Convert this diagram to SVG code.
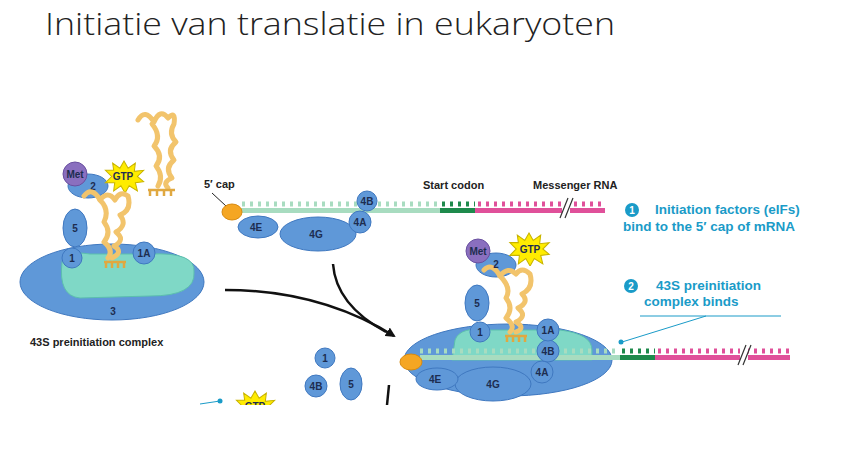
<svg xmlns="http://www.w3.org/2000/svg" width="842" height="456" viewBox="0 0 842 456">
<style>
.t{font-family:"Liberation Sans",Arial,sans-serif;font-weight:bold;font-size:11px;fill:#222}
.f{fill:#5f98d8;stroke:#3f78c0;stroke-width:1}
.fl{font-family:"Liberation Sans",Arial,sans-serif;font-weight:bold;font-size:10px;fill:#1d2d50;text-anchor:middle}
.s{font-family:"Liberation Sans",Arial,sans-serif;font-weight:bold;font-size:13.5px;fill:#1a9bc8}
.tr{fill:none;stroke:#f2c46c;stroke-width:5;stroke-linejoin:round;stroke-linecap:round}
.gtp{fill:#ffec00;stroke:#c9b400;stroke-width:1}
</style>
<defs>
<marker id="ah" markerWidth="10" markerHeight="10" refX="8" refY="5" orient="auto" markerUnits="userSpaceOnUse"><path d="M0,0 L10,5 L0,10 z" fill="#111"/></marker>
<symbol id="star" viewBox="-20 -16 40 32"><path d="M0,-15 L4,-8 L11,-13 L10,-5 L19,-6 L13,0 L19,5 L11,6 L13,14 L5,9 L1,16 L-3,9 L-10,14 L-9,6 L-18,6 L-12,0 L-18,-6 L-10,-6 L-11,-13 L-4,-8 Z" class="gtp"/></symbol>
</defs>
<rect width="842" height="456" fill="#fff"/>
<text x="45" y="35" font-family="'Open Sans',Lato,sans-serif" font-weight="300" font-size="31" fill="#222" textLength="570" lengthAdjust="spacingAndGlyphs">Initiatie van translatie in eukaryoten</text>

<g id="left-complex">
<ellipse cx="112" cy="282" rx="92" ry="38" class="f"/>
<path d="M62,262 Q64,250 90,254 L150,254 Q196,252 194,272 Q196,296 150,296 L80,298 Q58,296 62,262 Z" fill="#7fd8c6" stroke="#5cbfae"/>
<text x="113" y="315" class="fl">3</text>
<ellipse cx="88" cy="186" rx="20" ry="12" class="f"/><text x="93" y="190" class="fl">2</text>
<ellipse cx="75" cy="228" rx="12" ry="19" class="f"/><text x="75" y="232" class="fl">5</text>
<circle cx="72" cy="258" r="10" class="f"/><text x="72" y="262" class="fl">1</text>
<circle cx="144" cy="253" r="11" class="f"/><text x="144" y="257" class="fl">1A</text>
<circle cx="75" cy="174" r="12" fill="#8a6fbf" stroke="#6a50a0"/><text x="75" y="178" class="fl">Met</text>
<use href="#star" x="103" y="160" width="42" height="33"/><text x="123" y="180" class="fl" font-size="11">GTP</text>
<path d="M84,196 Q92,186 100,200 Q108,190 115,200 Q120,190 128,196 Q132,210 120,215 Q128,225 116,232 Q126,240 114,246 Q124,252 112,258" class="tr"/>
<path d="M100,200 Q110,210 104,222 Q112,232 104,242 Q114,250 108,258" class="tr"/>
<path d="M104,262 L126,262 M106,262 v6 M112,262 v6 M118,262 v6 M124,262 v6" stroke="#e0a840" stroke-width="2.5" fill="none"/>
<text x="30" y="346" class="t">43S preinitiation complex</text>
</g>

<g id="trna-free">
<path d="M138,120 Q145,108 154,122 Q160,108 168,118 Q176,110 174,124 Q168,134 176,142 Q166,150 174,160 Q164,168 172,178 Q162,182 168,188" class="tr"/>
<path d="M152,124 Q162,136 154,146 Q164,156 156,166 Q164,176 158,186" class="tr"/>
<path d="M148,190 L175,190 M150,190 v6 M157,190 v6 M164,190 v6 M171,190 v6" stroke="#e0a840" stroke-width="2.5" fill="none"/>
</g>

<g id="mrna-top">
<text x="204" y="188" class="t">5′ cap</text>
<line x1="212" y1="193" x2="226" y2="206" stroke="#222"/>
<rect x="240" y="208" width="200" height="5" fill="#a8dcc0"/>
<path d="M242,204 h198" stroke="#a8dcc0" stroke-width="5" stroke-dasharray="3 5"/>
<rect x="440" y="208" width="35" height="5" fill="#1e8a4c"/><path d="M442,204 h33" stroke="#1e8a4c" stroke-width="5" stroke-dasharray="3 5"/>
<rect x="475" y="208" width="130" height="5" fill="#e0509a"/><path d="M478,204 h127" stroke="#e0509a" stroke-width="5" stroke-dasharray="3 5"/>
<rect x="562" y="198" width="8" height="20" fill="#fff"/>
<path d="M560,218 L568,198 M565,218 L573,198" stroke="#333" stroke-width="1.2"/>
<ellipse cx="232" cy="212" rx="10" ry="8" fill="#f5a623" stroke="#d88a10"/>
<text x="423" y="189" class="t">Start codon</text>
<text x="533" y="189" class="t">Messenger RNA</text>
</g>

<g id="eif-top">
<ellipse cx="318" cy="234" rx="38" ry="17" class="f"/><text x="316" y="238" class="fl">4G</text>
<ellipse cx="258" cy="227" rx="20" ry="11" class="f"/><text x="256" y="231" class="fl">4E</text>
<circle cx="360" cy="222" r="11" class="f"/><text x="360" y="226" class="fl">4A</text>
<circle cx="367" cy="201" r="10" class="f"/><text x="367" y="205" class="fl">4B</text>
</g>

<g id="step1">
<circle cx="632" cy="210" r="7" fill="#1a9bc8"/><text x="632" y="214" font-family="Liberation Sans,sans-serif" font-weight="bold" font-size="10" fill="#fff" text-anchor="middle">1</text>
<text x="655" y="214" class="s">Initiation factors (eIFs)</text>
<text x="623" y="231" class="s">bind to the 5′ cap of mRNA</text>
</g>
<g id="step2">
<circle cx="631" cy="286" r="7" fill="#1a9bc8"/><text x="631" y="290" font-family="Liberation Sans,sans-serif" font-weight="bold" font-size="10" fill="#fff" text-anchor="middle">2</text>
<text x="656" y="290" class="s">43S preinitiation</text>
<text x="644" y="306" class="s">complex binds</text>
<path d="M640,316 H781 M706,316 L622,342" stroke="#1a9bc8" fill="none"/>
<circle cx="621" cy="342" r="2.5" fill="#1a9bc8"/>
</g>

<g id="right-complex">
<ellipse cx="508" cy="360" rx="104" ry="36" class="f"/>
<path d="M455,340 Q460,326 490,330 L560,330 Q592,334 592,350 L592,360 L452,360 Z" fill="#7fd8c6" stroke="#5cbfae"/>
<rect x="420" y="355" width="200" height="5" fill="#a8dcc0"/><path d="M420,351 h200" stroke="#a8dcc0" stroke-width="5" stroke-dasharray="3 5"/>
<rect x="620" y="355" width="35" height="5" fill="#1e8a4c"/><path d="M622,351 h33" stroke="#1e8a4c" stroke-width="5" stroke-dasharray="3 5"/>
<rect x="655" y="355" width="135" height="5" fill="#e0509a"/><path d="M658,351 h132" stroke="#e0509a" stroke-width="5" stroke-dasharray="3 5"/>
<rect x="740" y="345" width="8" height="20" fill="#fff"/>
<path d="M738,365 L746,345 M743,365 L751,345" stroke="#333" stroke-width="1.2"/>
<ellipse cx="411" cy="362" rx="11" ry="8" fill="#f5a623" stroke="#d88a10"/>
<ellipse cx="493" cy="384" rx="38" ry="17" class="f"/><text x="493" y="388" class="fl">4G</text>
<ellipse cx="437" cy="379" rx="21" ry="11" class="f"/><text x="435" y="383" class="fl">4E</text>
<circle cx="542" cy="372" r="11" class="f"/><text x="542" y="376" class="fl">4A</text>
<circle cx="548" cy="351" r="11" class="f"/><text x="548" y="355" class="fl">4B</text>
<circle cx="548" cy="330" r="11" class="f"/><text x="548" y="334" class="fl">1A</text>
<circle cx="480" cy="332" r="10" class="f"/><text x="480" y="336" class="fl">1</text>
<ellipse cx="477" cy="303" rx="12" ry="18" class="f"/><text x="477" y="307" class="fl">5</text>
<ellipse cx="496" cy="265" rx="20" ry="12" class="f"/>
<circle cx="478" cy="251" r="12" fill="#8a6fbf" stroke="#6a50a0"/><text x="478" y="255" class="fl">Met</text>
<use href="#star" x="507" y="232" width="44" height="34"/><text x="530" y="253" class="fl" font-size="11">GTP</text>
<path d="M484,270 Q492,262 500,276 Q508,266 516,274 Q522,266 530,274 Q534,288 522,294 Q530,302 518,308 Q528,316 516,322 Q526,328 516,332" class="tr"/>
<path d="M500,276 Q512,288 506,298 Q514,308 506,318 Q516,326 510,332" class="tr"/>
<text x="496" y="268" class="fl">2</text>
<path d="M505,336 L527,336 M507,336 v6 M513,336 v6 M519,336 v6 M525,336 v6" stroke="#e0a840" stroke-width="2.5" fill="none"/>
</g>

<g id="connectors">
<path d="M225,290 Q320,290 394,336" fill="none" stroke="#111" stroke-width="2.5" marker-end="url(#ah)"/>
<path d="M333,264 Q336,305 386,332" fill="none" stroke="#111" stroke-width="2.5"/>
<path d="M389,385 L387,405" stroke="#111" stroke-width="2.5"/>
<path d="M200,404 L220,401" stroke="#1a9bc8"/><circle cx="220" cy="401" r="2.5" fill="#1a9bc8"/>
</g>

<g id="released">
<circle cx="325" cy="358" r="10" class="f"/><text x="325" y="362" class="fl">1</text>
<circle cx="316" cy="386" r="11" class="f"/><text x="316" y="390" class="fl">4B</text>
<ellipse cx="351" cy="384" rx="11" ry="16" class="f"/><text x="351" y="388" class="fl">5</text>
<use href="#star" x="234" y="390" width="42" height="33"/><text x="255" y="410" class="fl" font-size="11">GTP</text>
</g>
<rect x="0" y="405" width="842" height="51" fill="#fff"/>
</svg>
